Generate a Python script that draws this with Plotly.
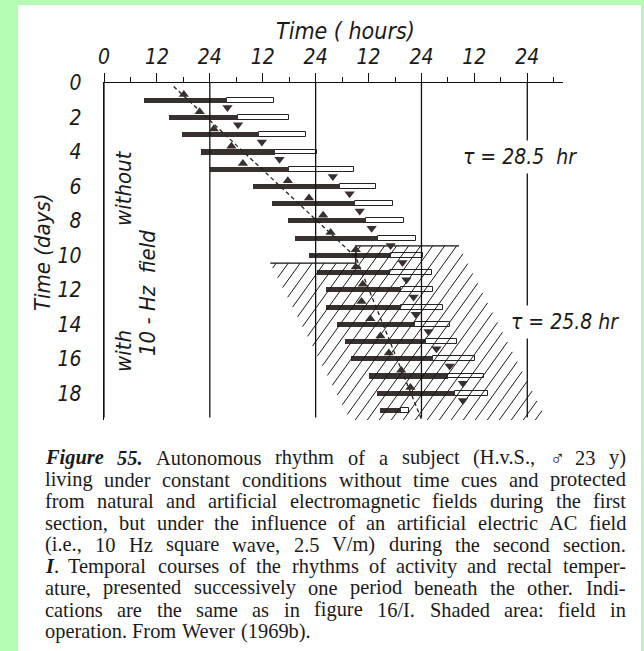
import re
import plotly.graph_objects as go

# ---------------- data ----------------
rows = list(range(1, 20))  # day index of each plotted period
black_start = [9.1, 14.7, 17.7, 21.9, 24.0, 33.9, 38.0, 41.7, 43.4, 46.6,
               48.4, 50.3, 50.3, 52.8, 54.6, 56.1, 60.2, 61.9, 62.7]
black_end = [27.8, 30.4, 35.1, 38.7, 41.9, 53.6, 57.0, 59.5, 62.1, 65.2,
             64.8, 67.4, 67.4, 70.5, 73.1, 74.6, 78.0, 79.5, 67.4]
white_end = [38.5, 42.0, 45.7, 48.3, 56.8, 61.6, 65.5, 68.0, 70.7, 72.3,
             74.4, 74.6, 76.9, 78.5, 80.1, 84.2, 86.1, 87.1, 69.2]
temp_max = [18.1, 21.7, 24.9, 28.9, 31.5, 41.7, 46.5, 49.7, 51.4, 57.1,
            57.1, 58.7, 58.4, 60.4, 62.7, 64.6, 67.4, 69.5, None]
temp_min = [28.0, 30.4, 35.8, 39.8, 51.9, 55.7, 58.0, 60.7, 65.0, 67.7,
            68.6, 70.2, 70.7, 73.6, 75.4, 78.4, 81.4, 81.4, None]

trend_hours = [15.8, 57.1, 72.3]
trend_days = [0.2, 10.1, 19.7]

field_hours = [37.7, 57.1, 57.1, 80.5, 100.5, 55.9]
field_days = [10.45, 10.45, 9.45, 9.45, 19.6, 19.6]
field_top_hours = [37.7, 57.1, 57.1, 80.5]
field_top_days = [10.45, 10.45, 9.45, 9.45]

day_lines = [0, 24, 48, 72, 96]
x_tickvals = [0, 12, 24, 36, 48, 60, 72, 84, 96]
x_ticktext = ["0", "12", "24", "12", "24", "12", "24", "12", "24"]
y_tickvals = list(range(0, 19, 2))

caption_lines = [
    "<b><i>Figure</i></b> <b><i>55.</i></b> Autonomous rhythm of a subject (H.v.S., \u2642 23 y)",
    "living under constant conditions without time cues and protected",
    "from natural and artificial electromagnetic fields during the first",
    "section, but under the influence of an artificial electric AC field",
    "(i.e., 10 Hz square wave, 2.5 V/m) during the second section.",
    "<b><i>I</i></b>. Temporal courses of the rhythms of activity and rectal temper-",
    "ature, presented successively one period beneath the other. Indi-",
    "cations are the same as in figure 16/I. Shaded area: field in",
    "operation. From Wever (1969b).",
]

# ---------------- layout geometry ----------------
W, H = 644, 651
ML, MR, MT, MB = 104, 81, 83, 231
PW, PH = W - ML - MR, H - MT - MB
X_RANGE = [0, 104.1]
Y_RANGE = [19.55, 0]

def px_x(px):
    return (px - ML) / PW

def px_y(py):
    return (H - MB - py) / PH

def d2p(h, d):
    return (ML + (h - X_RANGE[0]) / (X_RANGE[1] - X_RANGE[0]) * PW,
            MT + (d - Y_RANGE[1]) / (Y_RANGE[0] - Y_RANGE[1]) * PH)

def p2d(x, y):
    return (X_RANGE[0] + (x - ML) / PW * (X_RANGE[1] - X_RANGE[0]),
            Y_RANGE[1] + (y - MT) / PH * (Y_RANGE[0] - Y_RANGE[1]))

def hatch(hours, days, spacing=12.0, slope=0.72):
    """Clip parallel '/' lines (in pixel space) to the polygon."""
    poly = [d2p(h, d) for h, d in zip(hours, days)]
    n = len(poly)
    yref = max(p[1] for p in poly)
    def f(p, c):
        return p[0] - slope * (yref - p[1]) - c
    xs_all = [p[0] - slope * (yref - p[1]) for p in poly]
    cmin, cmax = min(xs_all), max(xs_all)
    hx, hy = [], []
    c = cmin + spacing / 2
    while c < cmax:
        cuts = []
        for i in range(n):
            a, b = poly[i], poly[(i + 1) % n]
            fa, fb = f(a, c), f(b, c)
            if (fa > 0) != (fb > 0):
                t = fa / (fa - fb)
                cuts.append(a[1] + t * (b[1] - a[1]))
        cuts.sort()
        for j in range(0, len(cuts) - 1, 2):
            for yy in (cuts[j], cuts[j + 1]):
                xx = c + slope * (yref - yy)
                h, d = p2d(xx, yy)
                hx.append(h)
                hy.append(d)
            hx.append(None)
            hy.append(None)
        c += spacing
    return hx, hy

# Times / Liberation Serif advance widths (1/1000 em) for justification
_W = {}
for ch, w in zip("abcdefghijklmnopqrstuvwxyz",
                 [444, 500, 444, 500, 444, 333, 500, 500, 278, 278, 500, 278, 778,
                  500, 500, 500, 500, 333, 389, 278, 500, 500, 722, 500, 500, 444]):
    _W[ch] = w
for ch, w in zip("ABCDEFGHIJKLMNOPQRSTUVWXYZ",
                 [722, 667, 667, 722, 611, 556, 722, 722, 333, 389, 722, 611, 889,
                  722, 722, 556, 722, 667, 556, 611, 722, 722, 944, 722, 722, 611]):
    _W[ch] = w
for ch in "0123456789":
    _W[ch] = 500
_W.update({".": 250, ",": 250, ":": 278, ";": 278, "(": 333, ")": 333,
           "/": 278, "-": 333, "\u2642": 520, " ": 250})
_WBI = {"F": 667, "i": 278, "g": 500, "u": 556, "r": 389, "e": 444, "I": 389,
        "5": 500, ".": 250}

def word_width(word, size):
    total = 0
    for seg_bold, seg in re.findall(r"(<b><i>)?([^<]+)(?:</i></b>)?", word):
        table = _WBI if seg_bold else {}
        for ch in seg:
            total += table.get(ch, _W.get(ch, 500))
    return total * size / 1000.0

INK = "#38302f"
GREEN = "#b4fcb4"
SANS = "Liberation Sans Narrow, DejaVu Sans Condensed, Liberation Sans, sans-serif"
SERIF = "Liberation Serif, DejaVu Serif, serif"
CAP_SIZE = 20.4
CAP_LEFT, CAP_RIGHT = 44, 625
CAP_TOP, CAP_STEP = 458, 21.65

fig = go.Figure()

hx, hy = hatch(field_hours, field_days)
fig.add_trace(go.Scatter(x=hx, y=hy, mode="lines",
                         line=dict(color="#1a1a1a", width=1.0),
                         hoverinfo="skip", showlegend=False))

vx, vy = [], []
for h in day_lines:
    vx += [h, h, None]
    vy += [0, 19.4, None]
fig.add_trace(go.Scatter(x=vx, y=vy, mode="lines",
                         line=dict(color="#111", width=1.3),
                         hoverinfo="skip", showlegend=False))

fig.add_trace(go.Scatter(x=field_top_hours, y=field_top_days, mode="lines",
                         line=dict(color="#111", width=1.4),
                         hoverinfo="skip", showlegend=False))

fig.add_trace(go.Bar(
    orientation="h", y=rows,
    base=black_end, x=[w - b for w, b in zip(white_end, black_end)],
    width=0.28, marker=dict(color="white", line=dict(color="#222", width=1)),
    showlegend=False, hoverinfo="skip"))
fig.add_trace(go.Bar(
    orientation="h", y=rows,
    base=black_start, x=[e - s for e, s in zip(black_end, black_start)],
    width=0.3, marker=dict(color=INK, line=dict(width=0)),
    showlegend=False, hoverinfo="skip"))

fig.add_trace(go.Scatter(x=trend_hours, y=trend_days, mode="lines",
                         line=dict(color="#222", width=1.3, dash="4px,3px"),
                         hoverinfo="skip", showlegend=False))

fig.add_trace(go.Scatter(
    x=temp_max, y=[r - 0.33 for r in rows], mode="markers",
    marker=dict(symbol="triangle-up", size=9, color=INK),
    hoverinfo="skip", showlegend=False))
fig.add_trace(go.Scatter(
    x=temp_min, y=[r + 0.42 for r in rows], mode="markers",
    marker=dict(symbol="triangle-down", size=9, color=INK),
    hoverinfo="skip", showlegend=False))

annotations = [
    dict(text="Time ( hours)", x=px_x(345), y=px_y(31), size=23),
    dict(text="Time (days)", x=px_x(42), y=px_y(252), size=22, angle=-90),
    dict(text="without", x=px_x(123), y=px_y(188), size=22, angle=-90),
    dict(text="with", x=px_x(123), y=px_y(351), size=22, angle=-90),
    dict(text="10 - Hz  field", x=px_x(147), y=px_y(293), size=22, angle=-90),
    dict(text="\u03c4 = 28.5  hr", x=px_x(520), y=px_y(157), size=21, bg=True),
    dict(text="\u03c4 = 25.8 hr", x=px_x(565), y=px_y(322), size=21, bg=True),
]
ann_objs = []
for a in annotations:
    ann_objs.append(dict(
        text="<i>" + a["text"] + "</i>", x=a["x"], y=a["y"], xref="paper", yref="paper",
        showarrow=False, textangle=a.get("angle", 0),
        font=dict(family=SANS, size=a["size"], color="#1a1a1a"),
        bgcolor="white" if a.get("bg") else None,
        borderpad=4 if a.get("bg") else 0,
        xanchor="center", yanchor="middle"))

# justified caption: each word placed so that lines fill the column
for i, line in enumerate(caption_lines):
    words = [w for w in line.split(" ") if w]
    widths = [word_width(w, CAP_SIZE) for w in words]
    last = i == len(caption_lines) - 1
    if last or len(words) < 2:
        gap = 250 * CAP_SIZE / 1000.0
    else:
        gap = (CAP_RIGHT - CAP_LEFT - sum(widths)) / (len(words) - 1)
    xpos = CAP_LEFT
    for w, wd in zip(words, widths):
        ann_objs.append(dict(
            text=w, x=px_x(xpos), y=px_y(CAP_TOP + i * CAP_STEP),
            xref="paper", yref="paper", showarrow=False,
            xanchor="left", yanchor="middle", align="left", borderpad=0,
            font=dict(family=SERIF, size=CAP_SIZE, color="#1a1a1a")))
        xpos += wd + gap

fig.update_layout(
    width=W, height=H,
    margin=dict(l=ML, r=MR, t=MT, b=MB),
    paper_bgcolor=GREEN, plot_bgcolor="rgba(0,0,0,0)",
    barmode="overlay", bargap=0,
    showlegend=False,
    annotations=ann_objs,
    shapes=[dict(type="rect", xref="paper", yref="paper",
                 x0=px_x(18), x1=px_x(641), y0=px_y(651), y1=px_y(5),
                 fillcolor="white", line=dict(width=0), layer="below")],
    xaxis=dict(range=X_RANGE, side="top", showgrid=False, zeroline=False,
               showline=True, linecolor="#111", linewidth=1.3,
               tickvals=x_tickvals, ticktext=["<i>" + t + "</i>" for t in x_ticktext],
               ticks="outside", ticklen=9, tickwidth=1.3, tickcolor="#111",
               minor=dict(dtick=6, tick0=0, ticks="outside", ticklen=5,
                          tickwidth=1.2, tickcolor="#111", showgrid=False),
               tickfont=dict(family=SANS, size=21, color="#1a1a1a")),
    yaxis=dict(range=Y_RANGE, showgrid=False, zeroline=False,
               showline=True, linecolor="#111", linewidth=1.3,
               tickvals=y_tickvals,
               ticktext=["<i>%d</i>" % v for v in y_tickvals],
               ticks="", ticklabelstandoff=17,
               tickfont=dict(family=SANS, size=21, color="#1a1a1a")),
)

fig.write_html("out.html")
